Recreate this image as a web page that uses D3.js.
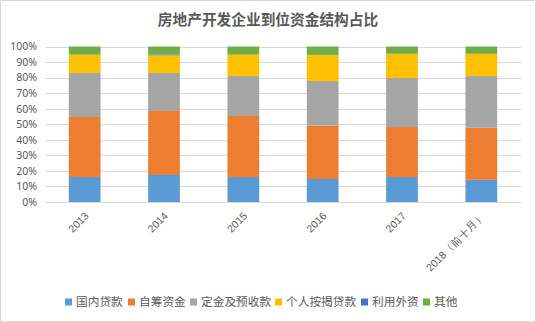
<!DOCTYPE html>
<html>
<head>
<meta charset="utf-8">
<script src="https://cdn.jsdelivr.net/npm/d3@7"></script>
<style>
  html, body { margin: 0; padding: 0; background: #fff; }
  svg { display: block; font-family: "Noto Sans CJK SC", "Noto Sans", sans-serif; }
</style>
</head>
<body>
<svg id="chart" width="536" height="322"></svg>
<script>
// Funding structure of real-estate developers, share of total (%)
const categories = ["2013", "2014", "2015", "2016", "2017", "2018（前十月）"];
const seriesNames = ["国内贷款", "自筹资金", "定金及预收款", "个人按揭贷款", "利用外资", "其他"];
const domesticLoans = [16.1, 17.4, 16.1, 14.8, 16.1, 14.3];
const selfRaised    = [38.6, 41.1, 39.2, 34.3, 32.1, 33.5];
const deposits      = [28.3, 24.5, 25.7, 28.7, 31.5, 33.2];
const mortgages     = [11.7, 11.3, 13.7, 16.7, 15.5, 14.2];
const foreignCap    = [0.1, 0.6, 0.1, 0.1, 0.1, 0.1];
const others        = [5.2, 5.1, 5.2, 5.4, 4.7, 4.7];
const yTicks = [0, 10, 20, 30, 40, 50, 60, 70, 80, 90, 100];
const colors = ["#5B9BD5", "#ED7D31", "#A5A5A5", "#FFC000", "#4472C4", "#70AD47"];

const seriesValues = [domesticLoans, selfRaised, deposits, mortgages, foreignCap, others];
const rows = categories.map((c, i) => {
  const r = { cat: c };
  seriesNames.forEach((s, k) => { r[s] = seriesValues[k][i]; });
  return r;
});

const svg = d3.select("#chart");
const W = 536, H = 322;
const margin = { left: 45, right: 15, top: 46.5, bottom: 120 };

// outer frame
svg.append("rect").attr("x", 0.5).attr("y", 0.5).attr("width", W - 1).attr("height", H - 1)
  .attr("fill", "#fff").attr("stroke", "#D9D9D9");

svg.append("text").attr("x", 268).attr("y", 25)
  .attr("text-anchor", "middle").attr("font-size", 14.7).attr("font-weight", "bold")
  .attr("fill", "#595959").text("房地产开发企业到位资金结构占比");

const x = d3.scaleBand().domain(categories).range([margin.left, W - margin.right]).paddingInner(0.6).paddingOuter(0.3);
const y = d3.scaleLinear().domain([0, 100]).range([202, 46.5]);

// grid lines
svg.append("g").selectAll("line").data(yTicks).join("line")
  .attr("x1", margin.left).attr("x2", W - margin.right)
  .attr("y1", d => Math.round(y(d)) + 0.5).attr("y2", d => Math.round(y(d)) + 0.5)
  .attr("stroke", "#D9D9D9").attr("stroke-width", 1);

// y-axis labels
const yAxis = d3.axisLeft(y).tickValues(yTicks).tickFormat(d => d + "%").tickSize(0).tickPadding(0);
const yg = svg.append("g").attr("transform", `translate(${margin.left - 8},0)`).call(yAxis);
yg.select(".domain").remove();
yg.selectAll("text").attr("font-size", 10.5).attr("fill", "#595959").attr("font-family", "\"Noto Sans\", sans-serif");

// stacked bars
const stack = d3.stack().keys(seriesNames)(rows);
svg.append("g").selectAll("g").data(stack).join("g")
  .attr("fill", (d, i) => colors[i])
  .selectAll("rect").data(d => d).join("rect")
  .attr("x", d => x(d.data.cat))
  .attr("width", x.bandwidth())
  .attr("y", d => y(d[1]))
  .attr("height", d => Math.max(0, y(d[0]) - y(d[1])));

// x-axis labels, rotated
const xAxis = d3.axisBottom(x).tickSize(0).tickPadding(0);
const xg = svg.append("g").attr("transform", "translate(0,210)").call(xAxis);
xg.select(".domain").remove();
xg.selectAll("text")
  .attr("font-size", 10.5).attr("fill", "#595959")
  .attr("text-anchor", "end").attr("dy", "0.35em").attr("y", 0).attr("x", 0)
  .attr("transform", "translate(2,4) rotate(-45)");

// legend
const legendX = [65, 128, 190, 275, 361, 423];
const lg = svg.append("g").selectAll("g").data(seriesNames).join("g")
  .attr("transform", (d, i) => `translate(${legendX[i]},302)`);
lg.append("rect").attr("x", 0).attr("y", -3.5).attr("width", 7).attr("height", 7)
  .attr("fill", (d, i) => colors[i]);
lg.append("text").attr("x", 11).attr("y", 0).attr("dy", "0.36em")
  .attr("font-size", 11.7).attr("fill", "#595959").text(d => d);
</script>
</body>
</html>
